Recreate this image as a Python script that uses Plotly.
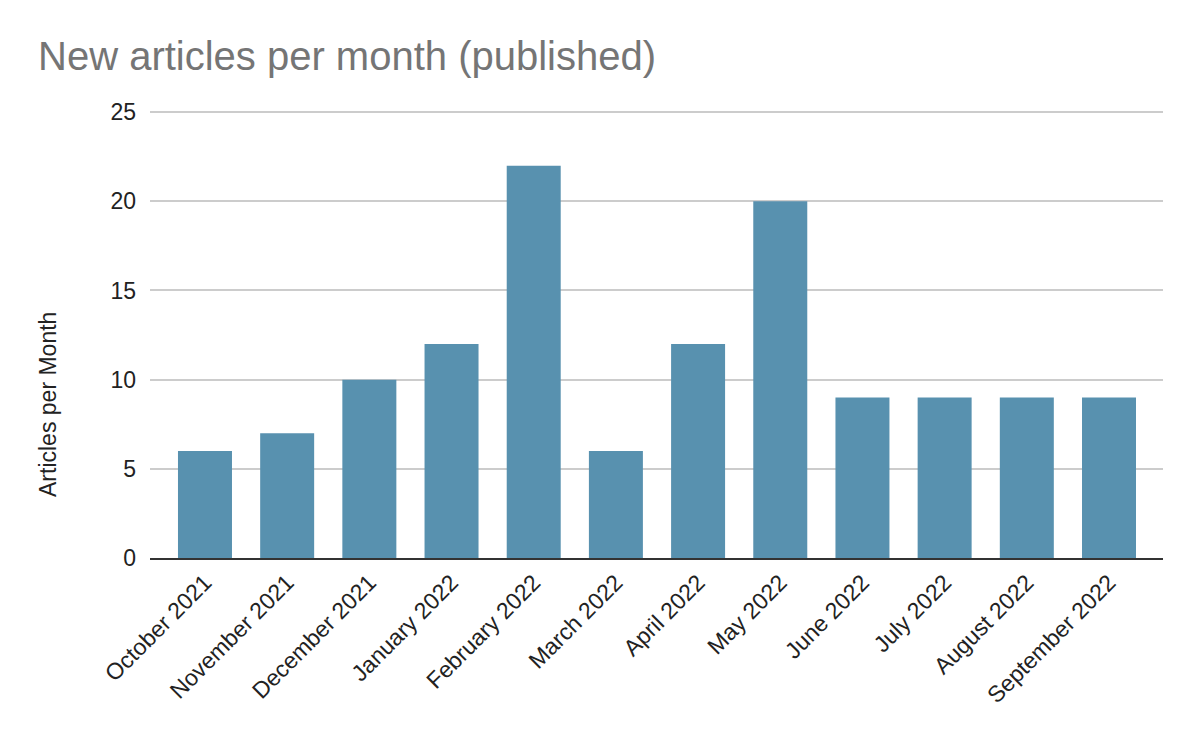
import plotly.graph_objects as go

months = ["October 2021", "November 2021", "December 2021", "January 2022",
          "February 2022", "March 2022", "April 2022", "May 2022",
          "June 2022", "July 2022", "August 2022", "September 2022"]
articles = [6, 7, 10, 12, 22, 6, 12, 20, 9, 9, 9, 9]

fig = go.Figure(go.Bar(x=months, y=articles, marker_color="#5891AF",
                       marker_line_width=0, width=0.657))

fig.update_layout(
    width=1200, height=742,
    paper_bgcolor="white", plot_bgcolor="white",
    margin=dict(l=142, r=45, t=102, b=192),
    font=dict(family="Liberation Sans, Arial, sans-serif", color="#222222"),
    title=dict(text="New articles per month (published)", x=30/1200, xref="container",
               xanchor="left", y=1 - 48/742, yref="container", yanchor="middle",
               font=dict(size=40, color="#757575")),
    showlegend=False,
)
fig.update_xaxes(type="category", range=[-0.669, 11.657], tickangle=-45,
                 tickfont=dict(size=23, color="#222222"), showgrid=False,
                 showline=True, linecolor="#333333", linewidth=2, ticks="")
fig.update_yaxes(range=[0, 25.12], tickvals=[0, 5, 10, 15, 20, 25],
                 tickfont=dict(size=23, color="#222222"),
                 gridcolor="#cccccc", gridwidth=1.5, zeroline=False,
                 showline=False, ticks="", ticklabelstandoff=13)
fig.add_annotation(text="Articles per Month", textangle=-90, showarrow=False,
                   xref="paper", yref="paper", x=-0.1007, y=(558 - 404) / 448,
                   xanchor="center", yanchor="middle",
                   font=dict(size=23, color="#222222"))

fig.write_html("out.html")
